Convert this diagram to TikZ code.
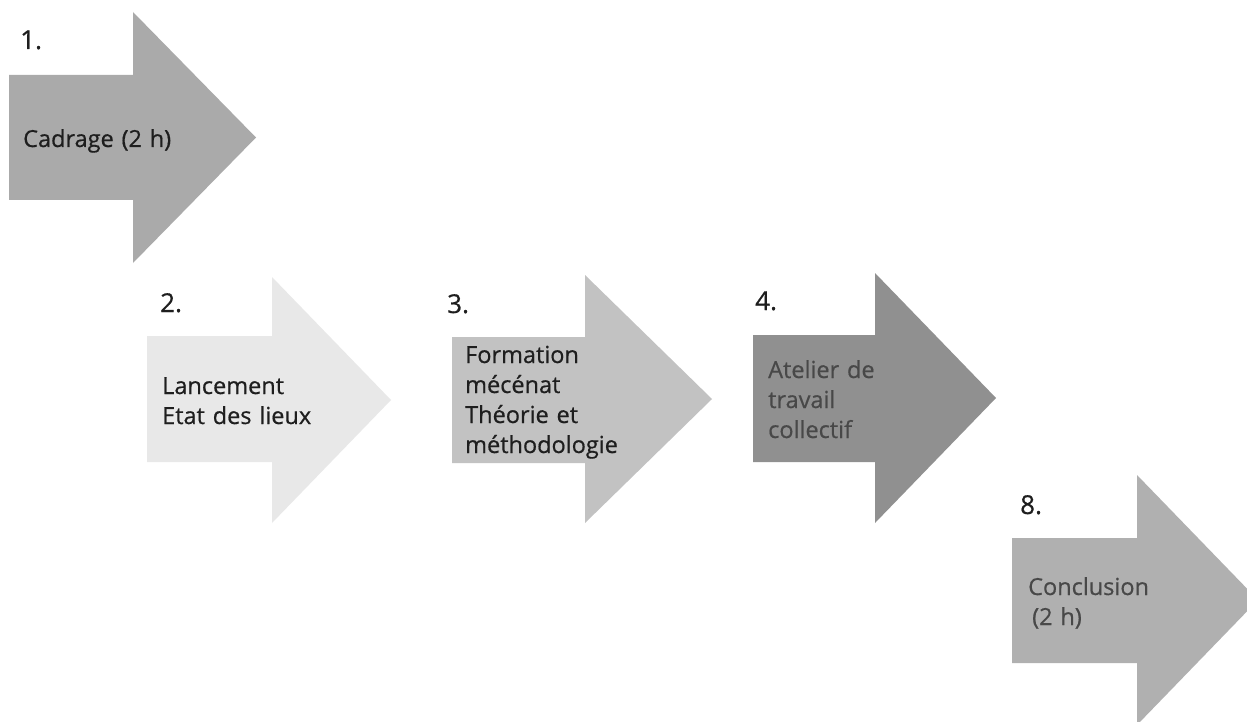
\documentclass[tikz,border=0pt]{standalone}
\usepackage{fontspec}
\setmainfont{Open Sans}
\newfontfamily\stepfont{Open Sans}[FakeBold=0.6]
\definecolor{cA}{HTML}{AAAAAA}
\definecolor{cB}{HTML}{E8E8E8}
\definecolor{cC}{HTML}{C2C2C2}
\definecolor{cD}{HTML}{909090}
\definecolor{cE}{HTML}{B0B0B0}
\definecolor{tDark}{HTML}{1E1E1E}
\definecolor{tMid}{HTML}{484848}
\tikzset{
  steplabel/.style={anchor=base west, inner sep=0pt, text=tDark, font=\stepfont\fontsize{26}{30}\selectfont},
  steptext/.style={anchor=base west, inner sep=0pt, text=tDark, align=left, text width=250pt, font=\stepfont\fontsize{23.5}{30}\selectfont},
}
\begin{document}
\begin{tikzpicture}[x=1pt,y=-1pt]
\useasboundingbox (0,0) rectangle (1247,722);
\fill[white] (0,0) rectangle (1247,722);
\begin{scope}
\clip (0,0) rectangle (1247,722);
% arrow 1
\fill[cA] (9,75) -- (133,75) -- (133,12) -- (256,137.5) -- (133,263) -- (133,200) -- (9,200) -- cycle;
% arrow 2
\fill[cB] (147,336) -- (272,336) -- (272,277) -- (391,400) -- (272,523) -- (272,462) -- (147,462) -- cycle;
% arrow 3
\fill[cC] (452,337) -- (585,337) -- (585,275) -- (712,399) -- (585,523) -- (585,463) -- (452,463) -- cycle;
% arrow 4
\fill[cD] (753,335) -- (875,335) -- (875,273) -- (996,398) -- (875,523) -- (875,462) -- (753,462) -- cycle;
% arrow 8
\fill[cE] (1012,538) -- (1137,538) -- (1137,475) -- (1258,600) -- (1137,725) -- (1137,663) -- (1012,663) -- cycle;
\end{scope}
% labels
\node[steplabel] (n1) at (20,49) {1.};
\node[steptext] (t1) at (23,147) {Cadrage (2 h)};
\node[steplabel] (n2) at (160,312) {2.};
\node[steptext] (t2) at (162,394) {Lancement\\Etat des lieux};
\node[steplabel] (n3) at (447,313) {3.};
\node[steptext] (t3) at (465,363) {Formation\\mécénat\\Théorie et\\méthodologie};
\node[steplabel] (n4) at (755,310) {4.};
\node[steptext, text=tMid] (t4) at (768,378) {Atelier de\\travail\\collectif};
\node[steplabel] (n8) at (1020,514) {8.};
\node[steptext, text=tMid] (t8) at (1028,595) {Conclusion\\\hspace*{4pt}(2 h)};
\end{tikzpicture}
\end{document}
